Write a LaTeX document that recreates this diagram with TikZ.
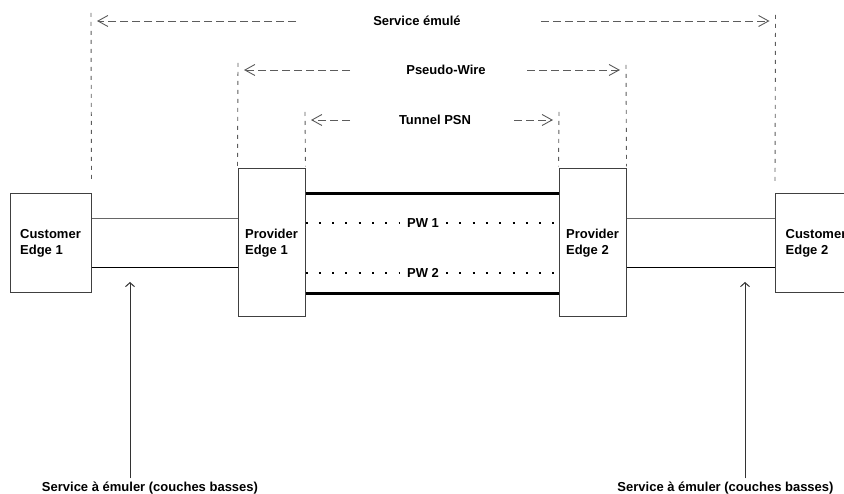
\documentclass[tikz,border=0pt]{standalone}
\usepackage{fontspec}
\setmainfont{Liberation Sans}
\usetikzlibrary{arrows.meta}
\definecolor{linegray}{HTML}{5C5C5C}
\definecolor{boxgray}{HTML}{404040}

\begin{document}
\begin{tikzpicture}[x=1pt,y=-1pt,
	font=\fontsize{13}{16}\selectfont\bfseries,
	edgebox/.style={draw=boxgray, line width=1pt, align=left, inner sep=0pt},
	cebox/.style={edgebox, minimum width=81pt, minimum height=99pt},
	pebox/.style={edgebox, minimum width=67pt, minimum height=148pt},
	pwlabel/.style={inner xsep=7pt, inner ysep=2pt},
	access/.style={line width=1pt},
	tunnel/.style={line width=3pt},
	pwdots/.style={line width=2pt, dash pattern=on 2pt off 11.3pt},
	bound/.style={draw=linegray, line width=0.9pt, dash pattern=on 4pt off 5pt},
	span/.style={draw=linegray, line width=0.9pt, dash pattern=on 8pt off 4pt,
		-{Straight Barb[length=10pt,width=11pt]}, shorten >=6pt},
	probe/.style={draw=black!80, line width=1pt, -{Straight Barb[length=4pt,width=9pt]}}]
	\useasboundingbox (0,0) rectangle (844,494);
	
	\node[cebox] (ce1) at (50.5,243.5) {Customer\\Edge 1};
	\node[pebox] (pe1) at (271.5,243) {Provider\\Edge 1};
	\node[pebox] (pe2) at (592.5,243) {Provider\\Edge 2};
	\node[cebox] (ce2) at (816,243.5) {Customer\\Edge 2};
	
	\node[pwlabel] (pw1) at (423,223) {PW 1};
	\node[pwlabel] (pw2) at (423,273) {PW 2};
	
	\node (svc) at (417,21) {Service émulé};
	\node (pw) at (446,70) {Pseudo-Wire};
	\node (tn) at (435,120) {Tunnel PSN};
	
	\node (lbl1) at (150,488) {Service à émuler (couches basses)};
	\node (lbl2) at (725.5,488) {Service à émuler (couches basses)};
	
	\coordinate (svc-l) at (91,13);
	\coordinate (svc-r) at (775.5,15);
	\coordinate (pw-l) at (238,63);
	\coordinate (pw-r) at (626,65);
	\coordinate (tn-l) at (305,112);
	\coordinate (tn-r) at (559,112);
	\coordinate (up1) at (130,282);
	\coordinate (up2) at (745,282);
	
	% access links
	\draw[access, draw=black!60] ([yshift=24.5pt]ce1.east) -- ([yshift=24.5pt]ce1.east -| pe1.west);
	\draw[access] ([yshift=-24.5pt]ce1.east) -- ([yshift=-24.5pt]ce1.east -| pe1.west);
	\draw[access, draw=black!60] ([yshift=24.5pt]ce2.west -| pe2.east) -- ([yshift=24.5pt]ce2.west);
	\draw[access] ([yshift=-24.5pt]ce2.west -| pe2.east) -- ([yshift=-24.5pt]ce2.west);
	
	% tunnel
	\draw[tunnel] ([yshift=-25pt]pe1.north east) -- ([yshift=-25pt]pe2.north west);
	\draw[tunnel] ([yshift=24pt]pe1.south east) -- ([yshift=24pt]pe2.south west);
	
	% pseudo-wires
	\draw[pwdots] (pe1.east |- pw1) -- (pw1.west);
	\draw[pwdots] (pw1.east) -- (pe2.west |- pw1);
	\draw[pwdots] (pe1.east |- pw2) -- (pw2.west);
	\draw[pwdots] (pw2.east) -- (pe2.west |- pw2);
	
	% limits
	\draw[bound] (svc-l) -- ([yshift=11pt]ce1.north east);
	\draw[bound] (svc-r) -- ([yshift=11pt]ce2.north west);
	\draw[bound] (pw-l) -- ([yshift=2pt]pe1.north west);
	\draw[bound] (pw-r) -- ([yshift=2pt]pe2.north east);
	\draw[bound] (tn-l) -- ([yshift=2pt]pe1.north east);
	\draw[bound] (tn-r) -- ([yshift=2pt]pe2.north west);
	
	% spans
	\draw[span] ([xshift=-121pt]svc.center) -- (svc-l |- svc);
	\draw[span] ([xshift=124pt]svc.center) -- (svc-r |- svc);
	\draw[span] ([xshift=-96pt]pw.center) -- (pw-l |- pw);
	\draw[span] ([xshift=81pt]pw.center) -- (pw-r |- pw);
	\draw[span] ([xshift=-85pt]tn.center) -- (tn-l |- tn);
	\draw[span] ([xshift=79pt]tn.center) -- (tn-r |- tn);
	
	% emulated services
	\draw[probe] (up1 |- lbl1.north) -- (up1);
	\draw[probe] (up2 |- lbl2.north) -- (up2);
\end{tikzpicture}
\end{document}
